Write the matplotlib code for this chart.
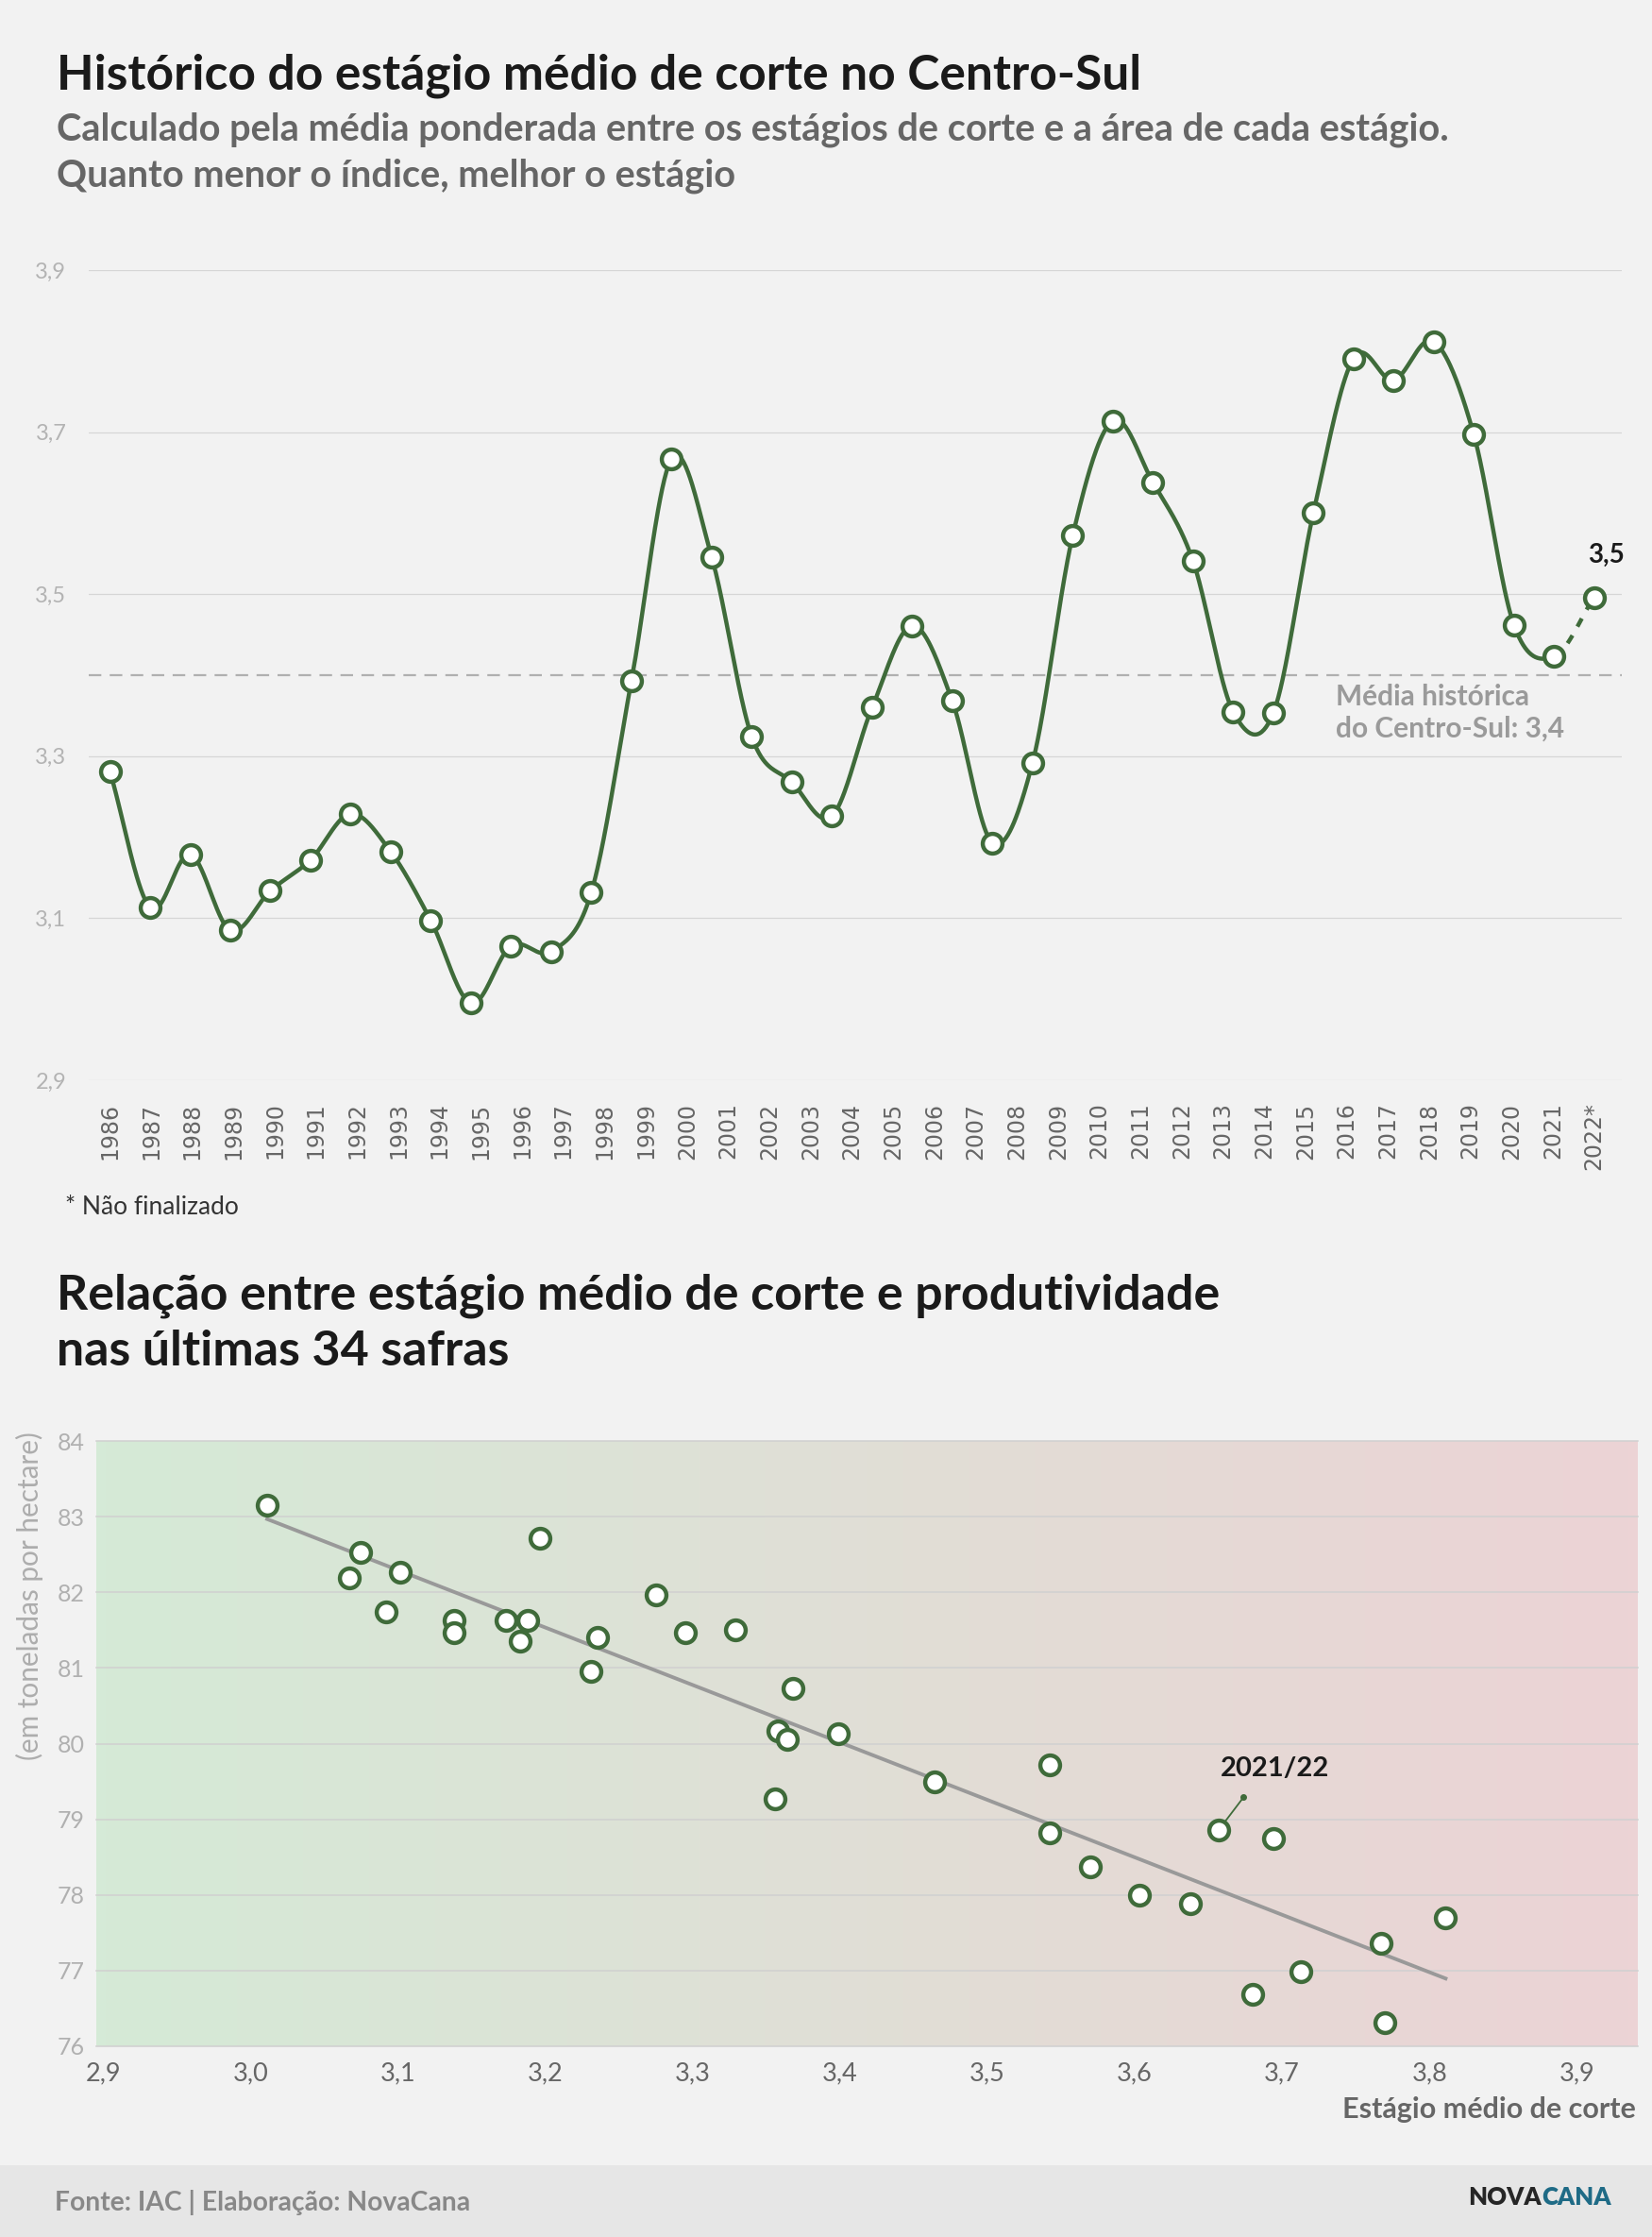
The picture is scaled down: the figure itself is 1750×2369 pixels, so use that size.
import numpy as np
import matplotlib
matplotlib.use("Agg")
import matplotlib.pyplot as plt
from matplotlib.colors import LinearSegmentedColormap
from matplotlib import transforms

# ---------------- data ----------------
years = list(range(1986, 2023))
year_labels = [str(y) for y in years[:-1]] + ["2022*"]
# 38 plotted values (the chart draws one more point than year labels)
stage = [3.281, 3.113, 3.179, 3.085, 3.134, 3.172, 3.229, 3.182, 3.097, 2.995,
         3.066, 3.059, 3.132, 3.393, 3.667, 3.546, 3.324, 3.268, 3.226, 3.360,
         3.461, 3.368, 3.193, 3.292, 3.572, 3.714, 3.638, 3.541, 3.355, 3.353,
         3.600, 3.791, 3.764, 3.812, 3.697, 3.462, 3.423, 3.496]
historical_mean = 3.4
top_yticks = [2.9, 3.1, 3.3, 3.5, 3.7, 3.9]

scatter_stage = [3.011, 3.0745, 3.067, 3.1015, 3.092, 3.138, 3.138, 3.173, 3.188, 3.183,
                 3.196, 3.235, 3.231, 3.275, 3.295, 3.329, 3.368, 3.358, 3.364, 3.356,
                 3.3985, 3.464, 3.542, 3.542, 3.570, 3.603, 3.638, 3.657, 3.694, 3.680,
                 3.713, 3.767, 3.770, 3.811]
scatter_prod = [83.15, 82.53, 82.19, 82.26, 81.74, 81.63, 81.47, 81.625, 81.625, 81.36,
                82.71, 81.40, 80.96, 81.96, 81.47, 81.51, 80.73, 80.17, 80.05, 79.27,
                80.13, 79.49, 79.72, 78.82, 78.375, 78.00, 77.89, 78.86, 78.75, 76.69,
                76.99, 77.36, 76.31, 77.70]
highlight_idx = 27
highlight_label = "2021/22"
sc_xticks = [2.9, 3.0, 3.1, 3.2, 3.3, 3.4, 3.5, 3.6, 3.7, 3.8, 3.9]
sc_yticks = [76, 77, 78, 79, 80, 81, 82, 83, 84]

# ---------------- style ----------------
W, H = 1750, 2369
BG = "#f2f2f2"
GREEN = "#3f6b3a"
FONT = ["Lato", "DejaVu Sans"]
plt.rcParams["font.family"] = FONT

fig = plt.figure(figsize=(W / 100, H / 100), dpi=100, facecolor=BG)


def rect(x0, y0, x1, y1):
    return [x0 / W, 1 - y1 / H, (x1 - x0) / W, (y1 - y0) / H]


def fx(x):
    return x / W


def fy(y):
    return 1 - y / H


def fmt(v, d=1):
    return f"{v:.{d}f}".replace(".", ",")


# ---------------- titles ----------------
fig.text(fx(60), fy(80), "Histórico do estágio médio de corte no Centro-Sul",
         fontsize=37.1, fontweight="bold", color="#1a1a1a", va="center", ha="left")
fig.text(fx(60), fy(137), "Calculado pela média ponderada entre os estágios de corte e a área de cada estágio.",
         fontsize=28.6, fontweight="bold", color="#666666", va="center", ha="left")
fig.text(fx(60), fy(186), "Quanto menor o índice, melhor o estágio",
         fontsize=28.6, fontweight="bold", color="#666666", va="center", ha="left")

# ---------------- top line chart ----------------
n = len(stage)
idx = np.arange(n, dtype=float)
ax1 = fig.add_axes(rect(94, 286, 1718, 1144))
ax1.set_facecolor("none")
ax1.set_xlim(-0.53, (n - 1) + 0.69)
ax1.set_ylim(2.9, 3.9)
ax1.set_yticks(top_yticks)
ax1.set_yticklabels([fmt(t) for t in top_yticks])
ax1.set_xticks(np.linspace(0, n - 1, len(years)))
ax1.set_xticklabels(year_labels, rotation=90, fontfamily="DejaVu Sans")
ax1.tick_params(axis="y", length=0, pad=17, labelsize=17, labelcolor="#b3b3b3")
ax1.tick_params(axis="x", length=0, pad=17, labelsize=17, labelcolor="#666666")
for s in ax1.spines.values():
    s.set_visible(False)
ax1.grid(axis="y", color="#d6d6d6", lw=0.9)
ax1.set_axisbelow(True)

# Catmull-Rom (cardinal) smoothing through the points
yv = np.asarray(stage, float)
m = np.empty_like(yv)
m[1:-1] = (yv[2:] - yv[:-2]) / 2
m[0] = yv[1] - yv[0]
m[-1] = yv[-1] - yv[-2]
t = np.linspace(0, 1, 40)
h00 = 2 * t**3 - 3 * t**2 + 1
h10 = t**3 - 2 * t**2 + t
h01 = -2 * t**3 + 3 * t**2
h11 = t**3 - t**2
segx, segy = [], []
for i in range(n - 1):
    segx.append(idx[i] + t)
    segy.append(h00 * yv[i] + h10 * m[i] + h01 * yv[i + 1] + h11 * m[i + 1])
solid_x = np.concatenate(segx[:-1])
solid_y = np.concatenate(segy[:-1])
ax1.plot(solid_x, solid_y, color=GREEN, lw=3.2, solid_capstyle="round", zorder=3)
ax1.plot(segx[-1], segy[-1], color=GREEN, lw=3.2, linestyle=(0, (2.2, 2.4)), zorder=3)
ax1.plot(idx, stage, linestyle="none", marker="o", ms=15, mew=3.2,
         mfc="white", mec=GREEN, zorder=4, clip_on=False)

ax1.axhline(historical_mean, color="#b0b0b0", lw=1.6, linestyle=(0, (6, 4)), zorder=2)
ax1.text(30.55, historical_mean - 0.010,
         f"Média histórica\ndo Centro-Sul: {fmt(historical_mean)}",
         fontsize=21.5, fontweight="bold", color="#9a9a9a", ha="left", va="top",
         linespacing=1.25, zorder=5)
ax1.annotate(fmt(stage[-1]), xy=(idx[-1], stage[-1]), xytext=(9, 32),
             textcoords="offset points", ha="center", va="center",
             fontsize=20, fontweight="bold", color="#1a1a1a")

fig.text(fx(69), fy(1279), "* Não finalizado", fontsize=19, color="#333333",
         ha="left", va="center")

# ---------------- second title ----------------
fig.text(fx(60), fy(1372), "Relação entre estágio médio de corte e produtividade",
         fontsize=37.4, fontweight="bold", color="#1a1a1a", va="center", ha="left")
fig.text(fx(60), fy(1431), "nas últimas 34 safras",
         fontsize=37.4, fontweight="bold", color="#1a1a1a", va="center", ha="left")

# ---------------- scatter ----------------
ax2 = fig.add_axes(rect(102, 1526, 1735, 2167))
xl = (2.895, 3.9415)
yl = (76, 84)
cmap = LinearSegmentedColormap.from_list("bg", ["#d5ead7", "#ecd3d5"])
ax2.imshow(np.linspace(0, 1, 256).reshape(1, -1), extent=[xl[0], xl[1], yl[0], yl[1]],
           aspect="auto", cmap=cmap, zorder=0, interpolation="bilinear")
ax2.set_xlim(*xl)
ax2.set_ylim(*yl)
ax2.set_xticks(sc_xticks)
ax2.set_xticklabels([fmt(v) for v in sc_xticks])
ax2.set_yticks(sc_yticks)
ax2.set_yticklabels([str(v) for v in sc_yticks])
ax2.tick_params(axis="x", length=0, pad=12, labelsize=19.5, labelcolor="#666666")
ax2.tick_params(axis="y", length=0, pad=9, labelsize=18, labelcolor="#b0b0b0")
for s in ax2.spines.values():
    s.set_visible(False)
ax2.grid(axis="y", color="#d0d0d0", lw=1.1)
ax2.set_axisbelow(True)
for gl in ax2.get_ygridlines():
    gl.set_clip_on(False)

sx = np.asarray(scatter_stage)
sy = np.asarray(scatter_prod)
coef = np.polyfit(sx, sy, 1)
tx = np.array([sx.min(), sx.max()])
ax2.plot(tx, np.polyval(coef, tx), color="#999999", lw=2.8, zorder=2)
ax2.plot(sx, sy, linestyle="none", marker="o", ms=15, mew=3.2,
         mfc="white", mec=GREEN, zorder=4)

# highlight annotation
hx, hy = sx[highlight_idx], sy[highlight_idx]
ax2.annotate("", xy=(hx, hy), xytext=(19, 25), textcoords="offset points",
             arrowprops=dict(arrowstyle="-", color=GREEN, lw=1.3, shrinkA=0, shrinkB=8))
dot_tr = transforms.offset_copy(ax2.transData, fig=fig, x=19, y=25, units="points")
ax2.plot([hx], [hy], marker="o", ms=4, color=GREEN, transform=dot_tr, zorder=5)
ax2.annotate(highlight_label, xy=(hx, hy), xytext=(43, 47), textcoords="offset points",
             ha="center", va="center", fontsize=21, fontweight="bold", color="#1a1a1a")

fig.text(fx(31), fy(1516), "(em toneladas por hectare)", rotation=90, fontsize=21.4,
         color="#adadad", ha="center", va="top")
fig.text(fx(1733), fy(2234), "Estágio médio de corte", fontsize=22, fontweight="bold",
         color="#666666", ha="right", va="center")

# ---------------- footer ----------------
fig.patches.append(plt.Rectangle((0, 0), 1, fy(2293), transform=fig.transFigure,
                                 facecolor="#e6e6e6", edgecolor="none", zorder=0))
fig.text(fx(58), fy(2332), "Fonte: IAC | Elaboração: NovaCana", fontsize=20.3,
         fontweight="bold", color="#888888", ha="left", va="center")
fig.text(fx(1633), fy(2327), "NOVA", fontsize=18.5, fontweight="heavy", color="#262626",
         ha="right", va="center")
fig.text(fx(1633), fy(2327), "CANA", fontsize=18.5, fontweight="heavy", color="#1f6b86",
         ha="left", va="center")

fig.savefig("out.png", dpi=100, facecolor=BG)
